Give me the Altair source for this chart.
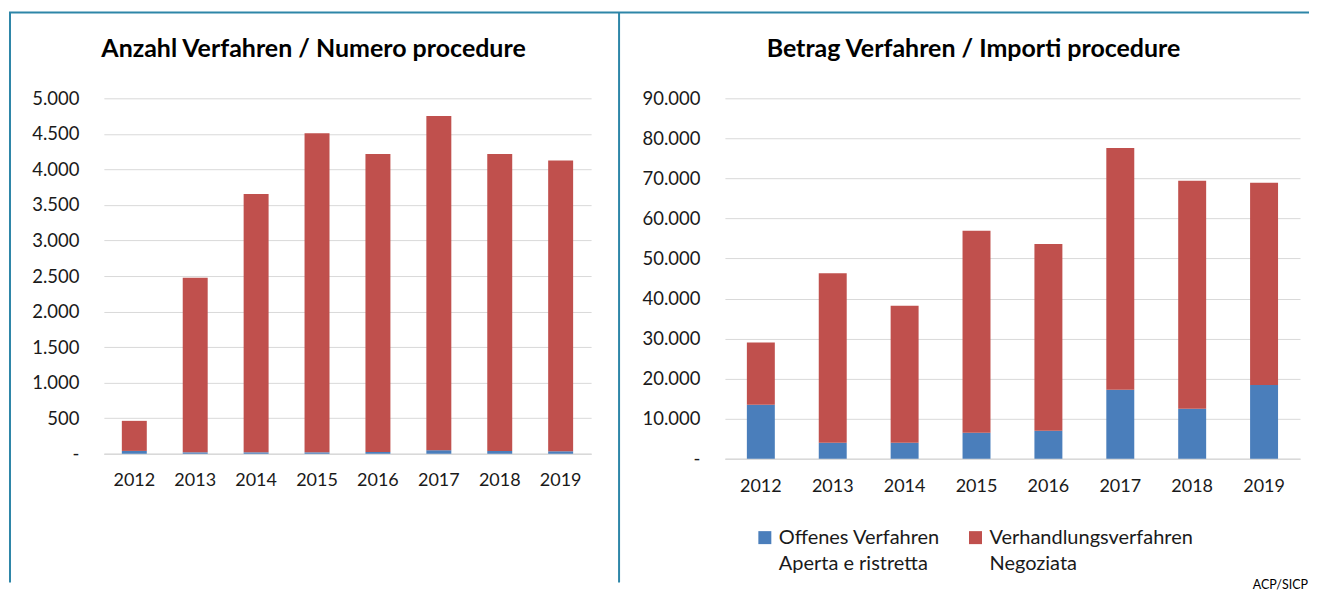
import altair as alt
import pandas as pd

# ---------------- data ----------------
years = ["2012", "2013", "2014", "2015", "2016", "2017", "2018", "2019"]
anzahl_offen = [40, 20, 20, 20, 25, 50, 40, 35]
anzahl_verhandlung = [423, 2455, 3635, 4490, 4190, 4700, 4175, 4090]
betrag_offen = [13500, 4000, 4000, 6500, 7000, 17200, 12500, 18400]
betrag_verhandlung = [15500, 42300, 34200, 50400, 46600, 60400, 56900, 50500]
series = ["Offenes Verfahren|Aperta e ristretta", "Verhandlungsverfahren|Negoziata"]
colors = ["#4A7EBB", "#C0504D"]
title_left = "Anzahl Verfahren / Numero procedure"
title_right = "Betrag Verfahren / Importi procedure"
left_ticks = [0, 500, 1000, 1500, 2000, 2500, 3000, 3500, 4000, 4500, 5000]
right_ticks = [0, 10000, 20000, 30000, 40000, 50000, 60000, 70000, 80000, 90000]
source_note = "ACP/SICP"

FONT = "Lato"
TXT = "#1a1a1a"
BORDER = "#2E86A8"
GRID = "#D9D9D9"

LW, LH = 488, 356
RW, RH = 576, 361


def long_df(a, b):
    rows = []
    for i, y in enumerate(years):
        rows.append({"year": y, "series": series[0], "value": a[i], "ord": 0})
        rows.append({"year": y, "series": series[1], "value": b[i], "ord": 1})
    return pd.DataFrame(rows)


def bar_layer(df, ymax, ticks, size, legend, label_pad_x):
    y_axis = alt.Axis(
        values=ticks,
        labelExpr="datum.value == 0 ? '-' : replace(format(datum.value, ','), ',', '.')",
        title=None, domain=False, ticks=False, grid=True, gridColor=GRID, gridWidth=1,
        labelPadding=25, labelFontSize=18.5, labelFont=FONT, labelColor=TXT,
    )
    x_axis = alt.Axis(
        title=None, labelAngle=0, domain=True, domainColor=GRID, domainWidth=1.5,
        ticks=False, labelPadding=label_pad_x, labelFontSize=18, labelFont=FONT,
        labelColor=TXT, grid=False,
    )
    return alt.Chart(df).mark_bar(size=size).encode(
        x=alt.X("year:N", sort=years, scale=alt.Scale(paddingInner=0, paddingOuter=0), axis=x_axis),
        y=alt.Y("value:Q", stack="zero", scale=alt.Scale(domain=[0, ymax], nice=False), axis=y_axis),
        color=alt.Color("series:N", scale=alt.Scale(domain=series, range=colors), legend=legend),
        order=alt.Order("ord:Q", sort="ascending"),
    )


def text_layer(text, x, y, size, bold=False, align="center"):
    return alt.Chart(pd.DataFrame({"t": [text]})).mark_text(
        font=FONT, fontSize=size, fontWeight="bold" if bold else "normal",
        align=align, baseline="middle", color="#000000",
    ).encode(text="t:N", x=alt.value(x), y=alt.value(y))


def rule_layer(x, x2, y, y2):
    return alt.Chart(pd.DataFrame({"k": [0]})).mark_rule(color=BORDER, strokeWidth=2).encode(
        x=alt.value(x), x2=alt.value(x2), y=alt.value(y), y2=alt.value(y2)
    )


legend = alt.Legend(
    title=None, orient="none", legendX=30, legendY=430, direction="horizontal",
    symbolType="square", symbolSize=169, symbolStrokeWidth=0,
    labelExpr="split(datum.label, '|')", labelFontSize=20, labelFont=FONT,
    labelColor=TXT, columnPadding=25, padding=0, labelOffset=4, labelLimit=400,
)

left = alt.layer(
    bar_layer(long_df(anzahl_offen, anzahl_verhandlung), 5000, left_ticks, 25, None, 18),
    text_layer(title_left, 210, -49, 25, bold=True),
    rule_layer(-94, -94, -86, 485),
    rule_layer(516, 516, -86, 485),
    rule_layer(-95, 1207, -86, -86),
).properties(width=LW, height=LH)

right = alt.layer(
    bar_layer(long_df(betrag_offen, betrag_verhandlung), 90000, right_ticks, 28, legend, 19),
    text_layer(title_right, 249, -49, 25, bold=True),
    text_layer(source_note, 584, 487, 12.5, align="right"),
).properties(width=RW, height=RH)

chart = alt.hconcat(left, right, spacing=134, bounds="flush").resolve_scale(
    color="independent"
).resolve_legend(color="independent").properties(
    padding={"left": 0, "top": 3, "right": 0, "bottom": 0}
).configure(style={"guide-label": {"lineHeight": 26}}).configure_view(stroke=None)

chart.save("out.html", embed_options={"renderer": "svg", "actions": False})
